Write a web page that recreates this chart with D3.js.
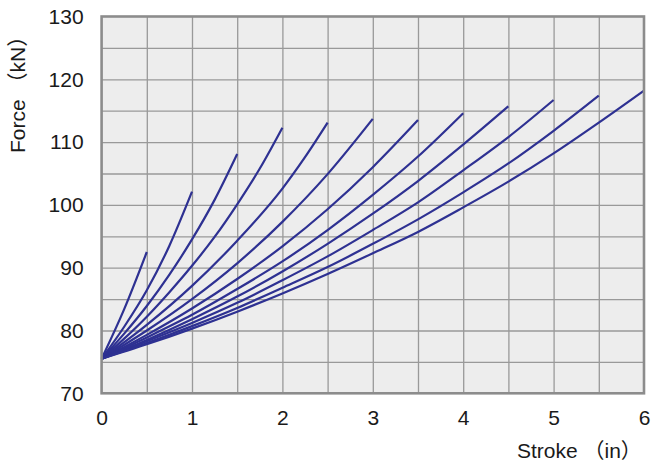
<!DOCTYPE html>
<html>
<head>
<meta charset="utf-8">
<script src="https://cdn.jsdelivr.net/npm/d3@7"></script>
<style>
  body { margin: 0; background: #fff; }
  text { font-family: "Liberation Sans", Arial, "Noto Sans CJK SC", sans-serif; fill: #1a1a1a; }
</style>
</head>
<body>
<div id="chart"></div>
<script>
// tick values
var xTicks = [0, 1, 2, 3, 4, 5, 6];
var yTicks = [70, 80, 90, 100, 110, 120, 130];

// force vs stroke curves, one per stroke length (in, kN)
var curve0_5 = [[0, 75.5], [0.25, 83.4], [0.5, 92.5]];
var curve1_0 = [[0, 75.5], [0.25, 80.6], [0.5, 86.4], [0.75, 93.5], [1, 102.1]];
var curve1_5 = [[0, 75.5], [0.25, 79.5], [0.5, 83.9], [0.75, 88.9], [1, 94.5], [1.25, 100.8], [1.5, 108.1]];
var curve2_0 = [[0, 75.5], [0.25, 78.7], [0.5, 82.2], [0.75, 86.1], [1, 90.3], [1.25, 94.9], [1.5, 100.1], [1.75, 105.8], [2, 112.3]];
var curve2_5 = [[0, 75.5], [0.5, 80.9], [1, 87.1], [1.5, 94.3], [2, 102.6], [2.25, 107.6], [2.5, 113.1]];
var curve3_0 = [[0, 75.5], [0.5, 80.0], [1, 85.0], [1.5, 90.7], [2, 97.3], [2.5, 104.9], [3, 113.7]];
var curve3_5 = [[0, 75.5], [0.5, 79.3], [1, 83.5], [1.5, 88.2], [2, 93.4], [2.5, 99.3], [3, 106.0], [3.5, 113.5]];
var curve4_0 = [[0, 75.5], [0.5, 78.9], [1, 82.5], [1.5, 86.6], [2, 91.0], [2.5, 96.0], [3, 101.6], [3.5, 107.7], [4, 114.6]];
var curve4_5 = [[0, 75.5], [0.5, 78.5], [1, 81.8], [1.5, 85.4], [2, 89.4], [2.5, 93.8], [3, 98.6], [3.5, 103.8], [4, 109.6], [4.5, 115.7]];
var curve5_0 = [[0, 75.5], [0.5, 78.3], [1, 81.2], [1.5, 84.4], [2, 88.0], [2.5, 91.8], [3, 96.0], [3.5, 100.4], [4, 105.5], [4.5, 110.8], [5, 116.7]];
var curve5_5 = [[0, 75.5], [0.5, 78.0], [1, 80.7], [1.5, 83.6], [2, 86.8], [2.5, 90.1], [3, 93.8], [3.5, 97.7], [4, 102.0], [4.5, 106.6], [5, 111.8], [5.5, 117.4]];
var curve6_0 = [[0, 75.5], [0.5, 77.8], [1, 80.3], [1.5, 83.0], [2, 85.9], [2.5, 89.0], [3, 92.3], [3.5, 95.7], [4, 99.6], [4.5, 103.7], [5, 108.2], [5.5, 113.1], [6, 118.2]];

var curves = [curve0_5, curve1_0, curve1_5, curve2_0, curve2_5, curve3_0,
              curve3_5, curve4_0, curve4_5, curve5_0, curve5_5, curve6_0];

// svg and plot area
var svgWidth = 651;
var svgHeight = 463;
var margin = { top: 16.5, right: 7, bottom: 69.7, left: 101.6 };
var chartWidth = svgWidth - margin.left - margin.right;
var chartHeight = svgHeight - margin.top - margin.bottom;

var svg = d3.select("#chart")
    .append("svg")
    .attr("width", svgWidth)
    .attr("height", svgHeight);

var chartGroup = svg.append("g")
    .attr("transform", `translate(${margin.left}, ${margin.top})`);

// scales
var xScale = d3.scaleLinear().domain([0, 6]).range([0, chartWidth]);
var yScale = d3.scaleLinear().domain([70, 130]).range([chartHeight, 0]);

// background
chartGroup.append("rect")
    .attr("width", chartWidth)
    .attr("height", chartHeight)
    .attr("fill", "#ededed");

// grid lines every 0.5 in and every 5 kN
var xGrid = d3.axisBottom(xScale)
    .tickValues(d3.range(0.5, 6, 0.5))
    .tickSize(-chartHeight)
    .tickFormat("");
var yGrid = d3.axisLeft(yScale)
    .tickValues(d3.range(75, 130, 5))
    .tickSize(-chartWidth)
    .tickFormat("");

chartGroup.append("g")
    .attr("transform", `translate(0, ${chartHeight})`)
    .call(xGrid)
    .call(g => g.select(".domain").remove())
    .call(g => g.selectAll("line").attr("stroke", "#999").attr("stroke-width", 1.3));

chartGroup.append("g")
    .call(yGrid)
    .call(g => g.select(".domain").remove())
    .call(g => g.selectAll("line").attr("stroke", "#999").attr("stroke-width", 1.3));

// curves
var line = d3.line()
    .x(d => xScale(d[0]))
    .y(d => yScale(d[1]))
    .curve(d3.curveMonotoneX);

chartGroup.append("g")
    .selectAll("path")
    .data(curves)
    .enter()
    .append("path")
    .attr("d", line)
    .attr("fill", "none")
    .attr("stroke", "#2e3192")
    .attr("stroke-width", 2.2);

// frame
chartGroup.append("rect")
    .attr("width", chartWidth)
    .attr("height", chartHeight)
    .attr("fill", "none")
    .attr("stroke", "#8c8c8c")
    .attr("stroke-width", 2.6);

// axis tick labels
var xAxis = d3.axisBottom(xScale).tickValues(xTicks).tickFormat(d3.format("d")).tickSize(0).tickPadding(17);
var yAxis = d3.axisLeft(yScale).tickValues(yTicks).tickFormat(d3.format("d")).tickSize(0).tickPadding(18);

chartGroup.append("g")
    .attr("transform", `translate(0, ${chartHeight})`)
    .call(xAxis)
    .call(g => g.select(".domain").remove())
    .call(g => g.selectAll("text").attr("font-size", 21).attr("fill", "#1a1a1a")
        .style("font-family", "'Liberation Sans', Arial, sans-serif"));

chartGroup.append("g")
    .call(yAxis)
    .call(g => g.select(".domain").remove())
    .call(g => g.selectAll("text").attr("font-size", 21).attr("fill", "#1a1a1a")
        .style("font-family", "'Liberation Sans', Arial, sans-serif"));

// axis titles
svg.append("text")
    .attr("transform", "translate(25, 153) rotate(-90)")
    .attr("font-size", 21)
    .text("Force （kN）");

svg.append("text")
    .attr("x", 517)
    .attr("y", 458)
    .attr("font-size", 21)
    .text("Stroke （in）");
</script>
</body>
</html>
